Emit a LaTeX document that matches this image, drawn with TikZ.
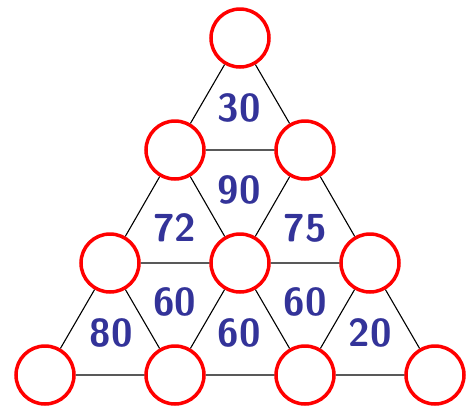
\documentclass[tikz,border=0pt]{standalone}
\usepackage{tikz}
\definecolor{numblue}{HTML}{333399}
\begin{document}
\begin{tikzpicture}[x=1pt,y=-1pt,
  circ/.style={circle,draw=red,line width=3.5pt,fill=white,minimum size=58pt,inner sep=0pt},
  edge/.style={draw=black,line width=1.1pt},
  num/.style={text=numblue,font=\fontsize{39}{42}\selectfont\sffamily\bfseries,inner sep=0pt}]
\useasboundingbox (0,0) rectangle (467,408);
\node[circ] (a0) at (240,38) {};
\node[circ] (b0) at (175,150) {};
\node[circ] (b1) at (305,150) {};
\node[circ] (c0) at (110,263) {};
\node[circ] (c1) at (240,263) {};
\node[circ] (c2) at (370,263) {};
\node[circ] (d0) at (45,375) {};
\node[circ] (d1) at (175,375) {};
\node[circ] (d2) at (305,375) {};
\node[circ] (d3) at (435,375) {};
\path[edge] (a0) -- (b0) (a0) -- (b1) (b0) -- (b1)
  (b0) -- (c0) (b0) -- (c1) (b1) -- (c1) (b1) -- (c2) (c0) -- (c1) (c1) -- (c2)
  (c0) -- (d0) (c0) -- (d1) (c1) -- (d1) (c1) -- (d2) (c2) -- (d2) (c2) -- (d3)
  (d0) -- (d1) (d1) -- (d2) (d2) -- (d3);
\node[num] (t30) at (239,108) {30};
\node[num] (t90) at (239,190) {90};
\node[num] (t72) at (175,228) {72};
\node[num] (t75) at (305,228) {75};
\node[num] (t60a) at (175,302) {60};
\node[num] (t60b) at (239,333) {60};
\node[num] (t60c) at (305,302) {60};
\node[num] (t80) at (111,333) {80};
\node[num] (t20) at (370,333) {20};
\end{tikzpicture}
\end{document}
